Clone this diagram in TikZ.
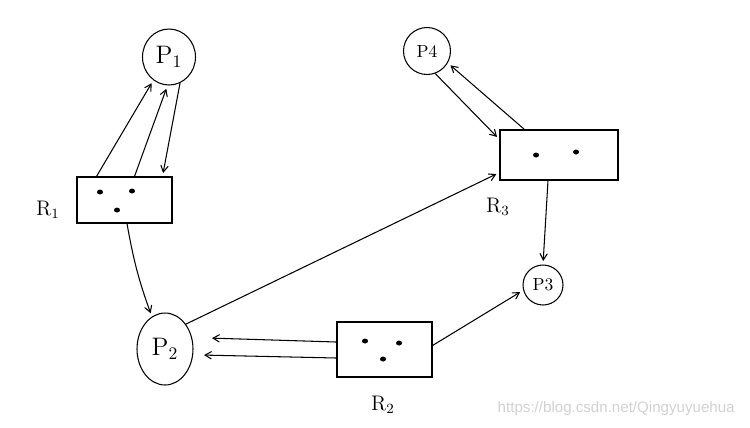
\documentclass[tikz,border=0pt]{standalone}
\usepackage{fontspec}
\newfontfamily\wmfont{Liberation Sans}
\usetikzlibrary{arrows,shapes.geometric}

\tikzset{
  proc/.style={draw,ellipse,inner sep=0pt,font=\Large},
  res/.style={draw,rectangle,inner sep=0pt},
  reslabel/.style={font=\large},
  conn/.style={->,shorten >=2pt}
}

\begin{document}
\begin{tikzpicture}[>=angle 60,x=0.02cm,y=-0.02cm,line width=0.6pt]
  \useasboundingbox (0,0) rectangle (750,427);
  % processes
  \node[proc,minimum width=1.06cm,minimum height=1.12cm] (P1) at (169,57) {P$_1$};
  \node[proc,minimum width=1.12cm,minimum height=1.44cm] (P2) at (165,349) {P$_2$};
  \node[proc,minimum width=0.8cm,minimum height=0.8cm,font=\normalsize] (P3) at (543,285) {P3};
  \node[proc,minimum width=0.94cm,minimum height=0.94cm,font=\normalsize] (P4) at (427,51) {P4};
  % resources
  \node[res,minimum width=1.9cm,minimum height=0.92cm] (R1) at (124.5,200) {};
  \node[res,minimum width=1.9cm,minimum height=1.1cm] (R2) at (384.5,349.5) {};
  \node[res,minimum width=2.36cm,minimum height=1cm] (R3) at (559,155) {};
  \node[reslabel] (R1lab) at (48,210) {R$_1$};
  \node[reslabel] (R2lab) at (383,405) {R$_2$};
  \node[reslabel] (R3lab) at (498,207) {R$_3$};

  % instances
  \foreach \x/\y in {100/192, 132/191, 117/210,
    365/341, 399/343, 383/359,
    536/155, 576/152}
  {
    \fill (\x,\y) ellipse (0.06cm and 0.05cm);
  }

  % edges
  \draw[conn] ([xshift=0.4cm]R1.north west) -- (P1.236);
  \draw[conn] ([xshift=1.16cm]R1.north west) -- (P1.267);
  \draw[conn] (P1.293) -- ([xshift=1.72cm]R1.north west);
  \draw[conn] ([xshift=0.05cm]R1.south) to[out=-80,in=110] (P2.112);
  \draw[conn] ([yshift=0.15cm]R2.west) -- ([xshift=0.3cm,yshift=0.22cm]P2.east);
  \draw[conn] ([yshift=-0.17cm]R2.west) -- ([xshift=0.14cm,yshift=-0.12cm]P2.east);
  \draw[conn] ([yshift=0.08cm]R2.east) -- (P3.195);
  \draw[conn] (P2.50) -- ([yshift=0.16cm]R3.south west);
  \draw[conn] ([xshift=-0.22cm]R3.south) -- (P3.north);
  \draw[conn] ([xshift=0.5cm]R3.north west) -- (P4.-30);
  \draw[conn] (P4.-70) -- ([yshift=-0.2cm]R3.north west);

  \node[anchor=east,text=black!18,font=\wmfont\fontsize{8.6}{10}\selectfont] (wm) at (741,409) {https://blog.csdn.net/Qingyuyuehua};
\end{tikzpicture}
\end{document}
